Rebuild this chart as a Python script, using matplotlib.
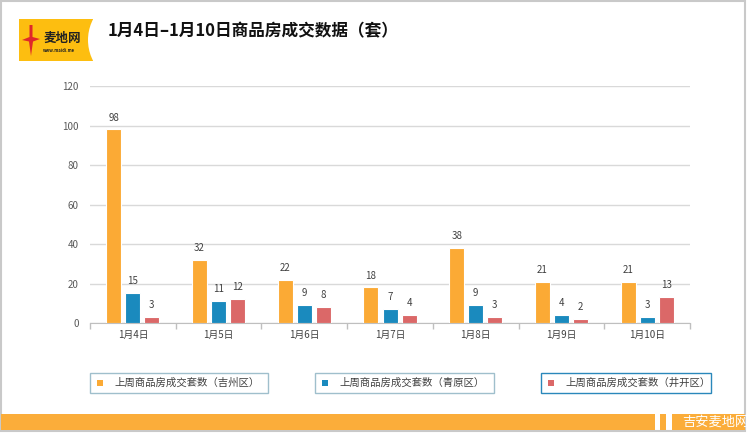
import matplotlib
matplotlib.use("Agg")
import matplotlib.pyplot as plt
from matplotlib.patches import Rectangle, Circle, Polygon
import numpy as np

plt.rcParams['font.family'] = ['Noto Sans CJK SC', 'DejaVu Sans']

categories = ["1月4日", "1月5日", "1月6日", "1月7日", "1月8日", "1月9日", "1月10日"]
jizhou = [98, 32, 22, 18, 38, 21, 21]
qingyuan = [15, 11, 9, 7, 9, 4, 3]
jingkai = [3, 12, 8, 4, 3, 2, 13]
series_names = ["上周商品房成交套数（吉州区）", "上周商品房成交套数（青原区）", "上周商品房成交套数（井开区）"]
yticks = [0, 20, 40, 60, 80, 100, 120]
title = "1月4日–1月10日商品房成交数据（套）"

colors = ["#FBAA35", "#1A8ABE", "#DB6868"]

W, H = 750, 433
fig = plt.figure(figsize=(W / 100, H / 100), dpi=100)
fig.patch.set_facecolor("white")

def fx(px):
    return px / W

def fy(py):
    return 1 - py / H

# outer frame
fig.patches.append(Rectangle((fx(1), fy(431)), fx(744), 430 / H, transform=fig.transFigure,
                             fill=False, edgecolor="#c9c9c9", lw=1.5))

# main axes
ax = fig.add_axes([fx(90), fy(323), fx(600), (323 - 86) / H])
x = np.arange(len(categories))
bw = 0.175
off = 0.222
for i, (vals, c) in enumerate(zip([jizhou, qingyuan, jingkai], colors)):
    xs = x + (i - 1) * off
    ax.bar(xs, vals, width=bw, color=c, edgecolor="white", linewidth=0.8, zorder=3)
    for xv, v in zip(xs, vals):
        ax.annotate(str(v), (xv, v), xytext=(0, 5), textcoords="offset points",
                    ha="center", va="bottom", fontsize=7, color="#404040")

ax.set_xlim(-0.5, len(categories) - 0.5)
ax.set_ylim(0, 120)
ax.set_yticks(yticks)
ax.set_yticklabels([str(t) for t in yticks], fontsize=7, color="#595959")
ax.yaxis.grid(True, color="#d9d9d9", lw=1)
ax.set_axisbelow(True)
ax.set_xticks(x)
ax.set_xticklabels(categories, fontsize=7, color="#404040")
ax.set_xticks(np.arange(-0.5, len(categories), 1.0), minor=True)
ax.tick_params(axis="x", which="major", length=0, pad=5)
ax.tick_params(axis="x", which="minor", length=4, color="#bfbfbf", width=1)
ax.tick_params(axis="y", length=0, pad=8)
for s in ["top", "right", "left"]:
    ax.spines[s].set_visible(False)
ax.spines["bottom"].set_color("#bfbfbf")
ax.set_facecolor("none")

# title
fig.text(fx(108), fy(31), title, fontsize=12, fontweight="bold", color="#111111",
         ha="left", va="center")

# logo
lax = fig.add_axes([fx(19), fy(61), fx(80), 42 / H])
lax.set_xlim(0, 80)
lax.set_ylim(0, 42)
lax.axis("off")
lax.add_patch(Rectangle((0, 0), 74, 42, facecolor="#FDBE10", edgecolor="none", zorder=1))
lax.add_patch(Circle((114, 21), 45, facecolor="white", edgecolor="none", zorder=2))
lax.add_patch(Polygon([[10.5, 36], [13.5, 36], [13.5, 24], [21, 22], [14, 19.5], [12, 5], [10, 19.5], [3, 21], [10.5, 24]],
                      closed=True, facecolor="#E0282A", edgecolor="none", zorder=3))
lax.text(24, 23, "麦地网", fontsize=9, fontweight="bold", color="#222222", ha="left", va="center", zorder=4)
lax.text(24, 11, "www.maidi.me", fontsize=3, fontweight="bold", color="#222222", ha="left", va="center", zorder=4)

# legend boxes
boxes = [(90, 268), (315, 494), (541, 711)]
edges = ["#9fbfcc", "#9fbfcc", "#2a88bb"]
for (x0, x1), c, name, ec in zip(boxes, colors, series_names, edges):
    fig.patches.append(Rectangle((fx(x0), fy(393)), fx(x1 - x0), 20 / H, transform=fig.transFigure,
                                 facecolor="white", edgecolor=ec, lw=1))
    fig.patches.append(Rectangle((fx(x0 + 7), fy(386)), fx(6), 6 / H, transform=fig.transFigure,
                                 facecolor=c, edgecolor="none"))
    fig.text(fx(x0 + 24), fy(383), name, fontsize=7.5, color="#404040", ha="left", va="center")

# bottom band
band_y0, band_y1 = 414, 430
for a, b in [(1, 655), (660, 666), (672, 745)]:
    fig.patches.append(Rectangle((fx(a), fy(band_y1)), fx(b - a), (band_y1 - band_y0) / H,
                                 transform=fig.transFigure, facecolor="#FBAD3A", edgecolor="none"))
fig.text(fx(715), fy(422), "吉安麦地网", fontsize=9.5, color="white", ha="center", va="center")

fig.savefig("out.png", dpi=100)
